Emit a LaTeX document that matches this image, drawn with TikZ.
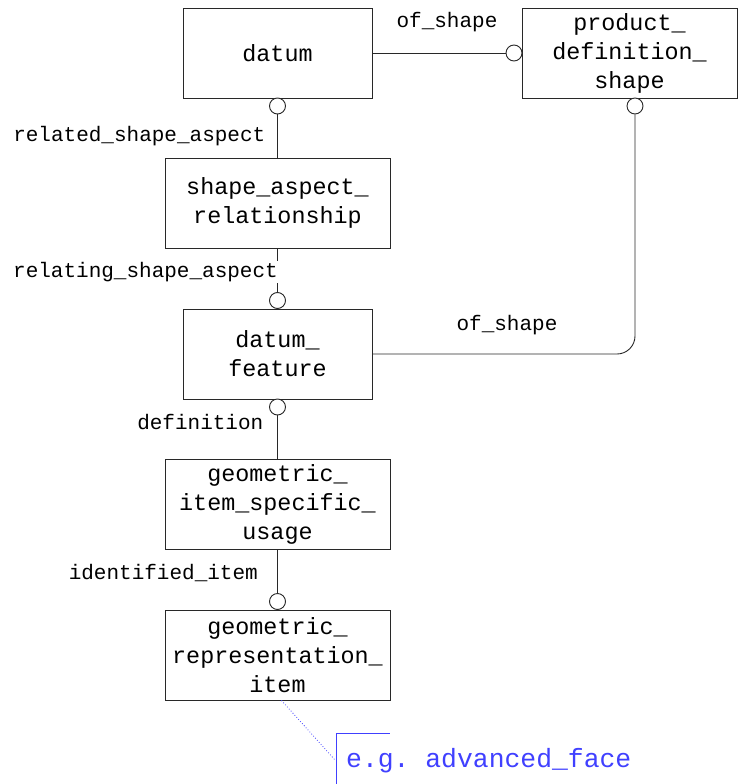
\documentclass[tikz,border=0pt]{standalone}
\usepackage{fontspec}
\setmainfont{Liberation Mono}
\definecolor{annot}{RGB}{64,64,255}
\definecolor{edge}{RGB}{40,40,40}
\begin{document}
\frenchspacing
\begin{tikzpicture}[x=1pt,y=-1pt,
  ent/.style={draw=edge, line width=0.9pt, inner sep=0pt, align=center,
    font=\fontsize{23.4}{29}\selectfont, minimum height=90},
  ring/.style={circle, draw=edge, line width=0.9pt, fill=white, minimum size=16, inner sep=0pt},
  conn/.style={draw=edge, line width=0.9pt},
  lbl/.style={font=\fontsize{21}{24}\selectfont, inner sep=1pt},
  note/.style={text=annot, font=\fontsize{26.4}{30}\selectfont, inner sep=0pt}]
\useasboundingbox (0,0) rectangle (739,784);

% entities
\node[ent, minimum width=189] (datum) at (277.5,53) {datum};
\node[ent, minimum width=215] (pds) at (629.5,53) {product\_\\definition\_\\shape};
\node[ent, minimum width=225] (sar) at (277.5,203) {shape\_aspect\_\\relationship};
\node[ent, minimum width=189] (df) at (277.5,354) {datum\_\\feature};
\node[ent, minimum width=225] (gisu) at (277.5,504.5) {geometric\_\\item\_specific\_\\usage};
\node[ent, minimum width=225] (gri) at (277.5,655) {geometric\_\\representation\_\\item};

% rings
\node[ring] (r1) at (514,53) {};
\node[ring] (r2) at (277.5,106) {};
\node[ring] (r3) at (277.5,300.5) {};
\node[ring] (r4) at (635,106) {};
\node[ring] (r5) at (277.5,407) {};
\node[ring] (r6) at (277.5,601.5) {};

% connectors
\draw[conn] (datum.east) -- (r1.west);
\draw[conn] (r2.south) -- (sar.north);
\draw[conn] (sar.south) -- (r3.north);
\draw[conn, rounded corners=18] (df.east) -- (r4 |- df.east) -- (r4.south);
\draw[conn] (r5.south) -- (gisu.north);
\draw[conn] (gisu.south) -- (r6.north);

% labels
\node[lbl] (l1) at (447,22) {of\_shape};
\node[lbl, anchor=east] (l2) at (266.5,136) {related\_shape\_aspect};
\node[lbl, anchor=east, fill=white] (l3) at (279,272) {relating\_shape\_aspect};
\node[lbl] (l4) at (507,325) {of\_shape};
\node[lbl, anchor=east] (l5) at (264.5,422) {definition};
\node[lbl, anchor=east] (l6) at (259,573) {identified\_item};

% annotation
\coordinate (a0) at (336,784);
\coordinate (a1) at (336,733);
\coordinate (a2) at (390,733);
\coordinate (a3) at (335,760);
\draw[annot, line width=1pt] (a0) -- (a1) -- (a2);
\draw[annot, dotted, line width=0.8pt] ([xshift=4pt]gri.south) -- (a3);
\node[note, anchor=west] (n1) at (346,761) {e.g.\ advanced\_face};
\end{tikzpicture}
\end{document}
